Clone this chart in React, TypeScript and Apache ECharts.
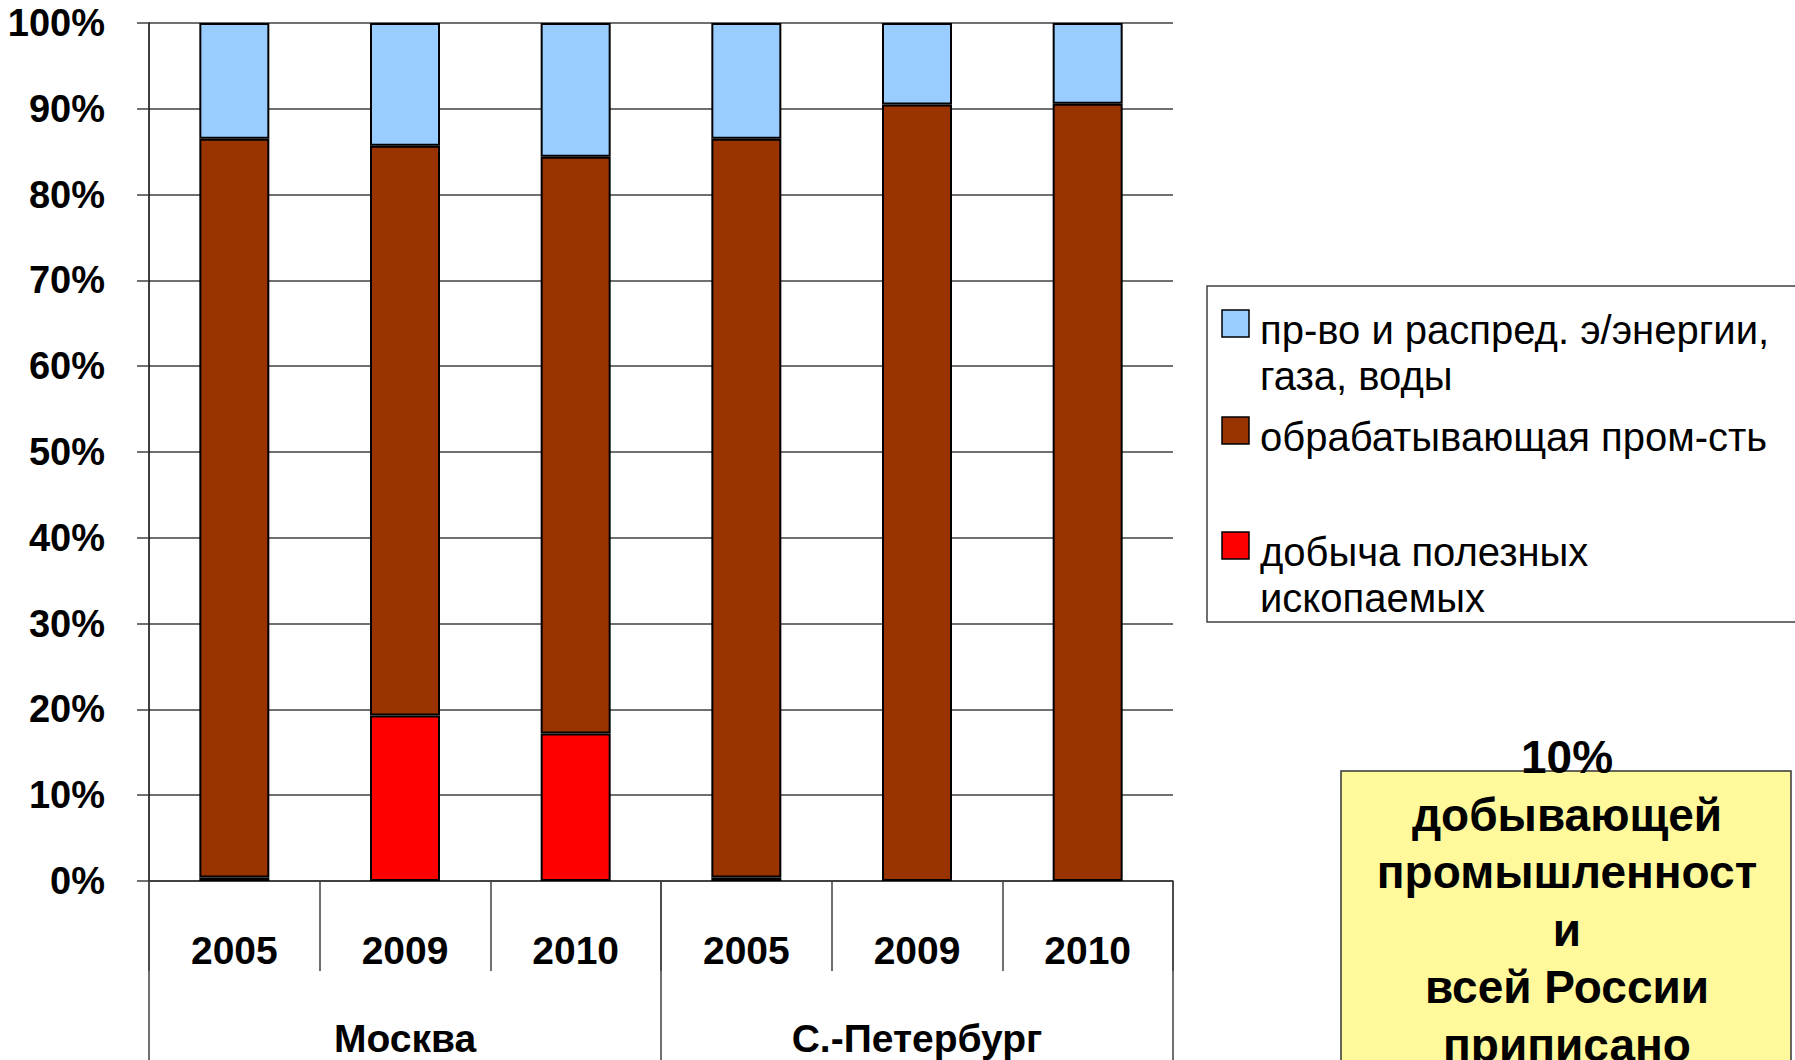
import React, { useEffect, useRef } from "react";
import * as echarts from "echarts";

// ---- data ----
const years = ["2005", "2009", "2010", "2005", "2009", "2010"];
const cities = ["Москва", "С.-Петербург"];
const miningShare = [0.4, 19.3, 17.2, 0.4, 0, 0];
const manufacturingShare = [86.1, 66.4, 67.2, 86.1, 90.5, 90.6];
const utilitiesShare = [13.5, 14.3, 15.6, 13.5, 9.5, 9.4];
const seriesNames = [
  "добыча полезных ископаемых",
  "обрабатывающая пром-сть",
  "пр-во и распред. э/энергии, газа, воды",
];
const seriesColors = ["#FF0000", "#993300", "#99CCFF"];
// legend entries in display order (top to bottom): index into series + text lines
const legendEntries = [
  { s: 2, lines: ["пр-во и распред. э/энергии,", "газа, воды"] },
  { s: 1, lines: ["обрабатывающая пром-сть"] },
  { s: 0, lines: ["добыча полезных", "ископаемых"] },
];
const noteLines = ["10%", "добывающей", "промышленност", "и", "всей России", "приписано"];

const FONT = "Arial, 'Liberation Sans', sans-serif";

export default function App() {
  const ref = useRef<HTMLDivElement>(null);
  useEffect(() => {
    if (!ref.current) return;
    const chart = echarts.init(ref.current, null, { renderer: "svg" });

    const legendItemY = [330, 437, 552];
    const legendGraphics: any[] = [
      {
        type: "rect",
        shape: { x: 1207, y: 286, width: 700, height: 336 },
        style: { fill: "#FFFFFF", stroke: "#404040", lineWidth: 1.5 },
        z: 10,
      },
    ];
    legendEntries.forEach((e, i) => {
      const cy = legendItemY[i];
      legendGraphics.push({
        type: "rect",
        shape: { x: 1222, y: cy - 20, width: 27, height: 27 },
        style: { fill: seriesColors[e.s], stroke: "#000", lineWidth: 1.5 },
        z: 11,
      });
      e.lines.forEach((ln, j) => {
        legendGraphics.push({
          type: "text",
          x: 1260,
          y: cy + j * 46,
          style: {
            text: ln,
            fill: "#000",
            fontSize: 40,
            fontFamily: FONT,
            align: "left",
            verticalAlign: "middle",
          },
          z: 11,
        });
      });
    });

    const noteGraphics: any[] = [
      {
        type: "rect",
        shape: { x: 1341, y: 771, width: 450, height: 400 },
        style: { fill: "#FFF99C", stroke: "#333", lineWidth: 1.5 },
        z: 10,
      },
    ];
    noteLines.forEach((ln, i) => {
      noteGraphics.push({
        type: "text",
        x: 1567,
        y: 757 + i * 57.5,
        style: {
          text: ln,
          fill: "#000",
          fontSize: 46,
          fontWeight: "bold",
          fontFamily: FONT,
          align: "center",
          verticalAlign: "middle",
        },
        z: 11,
      });
    });

    const labelStyle = {
      color: "#000",
      fontWeight: "bold" as const,
      fontFamily: FONT,
    };

    const mkSeries = (idx: number, data: number[]) => ({
      name: seriesNames[idx],
      type: "bar",
      stack: "total",
      xAxisIndex: 0,
      barWidth: 70,
      data: data.map((v) => (v === 0 ? null : v)),
      itemStyle: { color: seriesColors[idx], borderColor: "#000", borderWidth: 2 },
    });

    chart.setOption({
      animation: false,
      backgroundColor: "#FFFFFF",
      grid: { left: 149, right: 622, top: 23, bottom: 179 },
      xAxis: [
        {
          type: "category",
          data: years,
          position: "bottom",
          axisLine: { show: true, lineStyle: { color: "#333", width: 1.5 } },
          axisTick: { show: true, interval: 0, length: 90, lineStyle: { color: "#404040", width: 1.5 } },
          axisLabel: { ...labelStyle, interval: 0, margin: 50, fontSize: 39 },
          splitLine: { show: false },
        },
        {
          type: "category",
          data: cities,
          position: "bottom",
          axisLine: { show: false },
          axisTick: { show: true, interval: 0, length: 185, lineStyle: { color: "#404040", width: 1.5 } },
          axisLabel: { ...labelStyle, interval: 0, margin: 138, fontSize: 39 },
          splitLine: { show: false },
        },
      ],
      yAxis: {
        type: "value",
        min: 0,
        max: 100,
        interval: 10,
        axisLine: { show: true, lineStyle: { color: "#000", width: 1.5 } },
        axisTick: { show: true, length: 12, lineStyle: { color: "#404040", width: 1.5 } },
        axisLabel: { ...labelStyle, formatter: "{value}%", margin: 44, fontSize: 38, padding: [12, 0, 0, 0] },
        splitLine: { show: true, lineStyle: { color: "#404040", width: 1.5 } },
      },
      series: [
        mkSeries(0, miningShare),
        mkSeries(1, manufacturingShare),
        mkSeries(2, utilitiesShare),
      ],
      graphic: [...legendGraphics, ...noteGraphics],
    });

    return () => chart.dispose();
  }, []);

  return (
    <div
      ref={ref}
      style={{ position: "fixed", left: 0, top: 0, width: 1795, height: 1060, background: "#fff" }}
    />
  );
}
